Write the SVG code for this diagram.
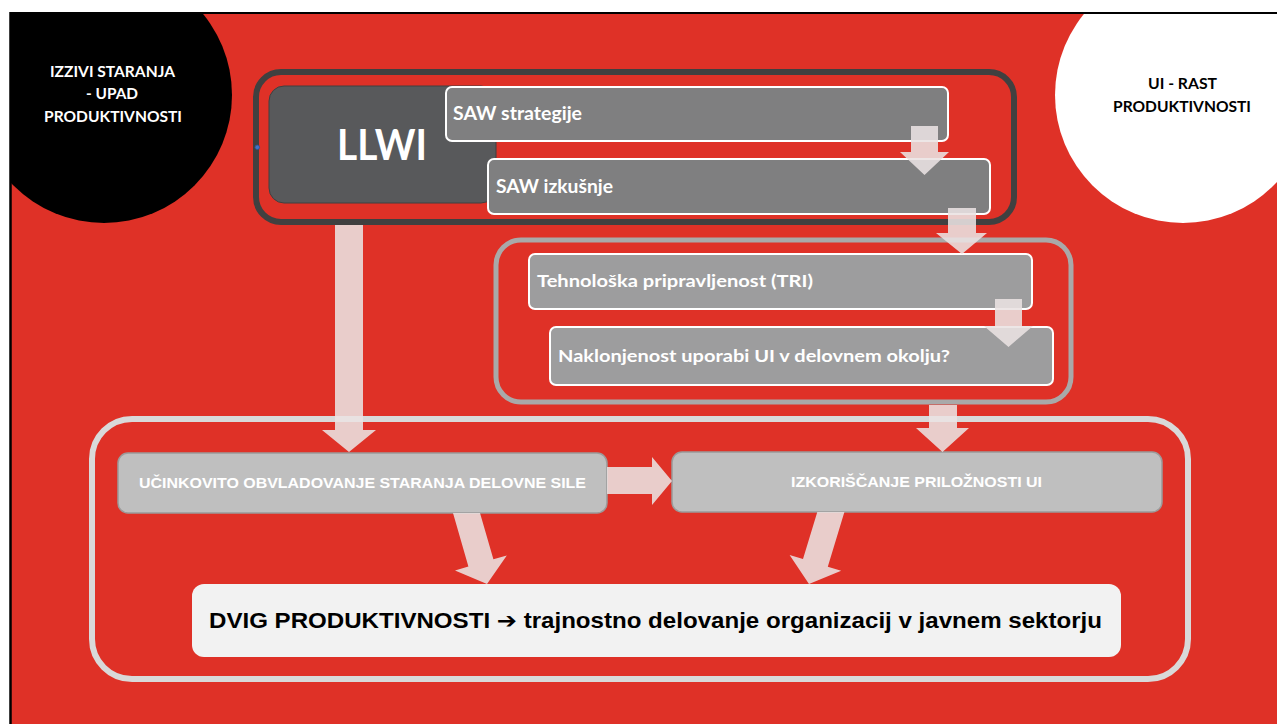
<svg xmlns="http://www.w3.org/2000/svg" width="1277" height="724" viewBox="0 0 1277 724">
<defs>
<clipPath id="slide"><rect x="11" y="14" width="1266" height="710"/></clipPath>
<style>
.cal{font-family:Lato,"Open Sans","DejaVu Sans",sans-serif;font-weight:700}
.ar{font-family:"Liberation Sans",Arial,sans-serif;font-weight:700}
.arrow{fill:#ebe2e2;fill-opacity:0.88}
.saw{fill:#7f7f80;stroke:#fff;stroke-width:2}
.tri{fill:#9d9d9e;stroke:#fff;stroke-width:2}
.res{fill:#bfbfbf;stroke:#9b9b9b;stroke-width:1.5}
.wt{fill:#fff}
</style>
</defs>
<rect width="1277" height="724" fill="#fff"/>
<rect x="11" y="14" width="1266" height="710" fill="#df3127"/>
<g id="izzivi" clip-path="url(#slide)">
<circle cx="104" cy="95" r="128" fill="#000"/>
<g class="cal wt" font-size="15" text-anchor="middle">
<text x="112.5" y="77" textLength="125" lengthAdjust="spacingAndGlyphs">IZZIVI STARANJA</text>
<text x="112" y="99" textLength="52" lengthAdjust="spacingAndGlyphs">- UPAD</text>
<text x="113" y="122" textLength="138" lengthAdjust="spacingAndGlyphs">PRODUKTIVNOSTI</text>
</g>
</g>
<g id="ui-rast" clip-path="url(#slide)">
<circle cx="1183" cy="95" r="128" fill="#fff"/>
<g class="cal" font-size="15" text-anchor="middle" fill="#000">
<text x="1182.5" y="89" textLength="69" lengthAdjust="spacingAndGlyphs">UI - RAST</text>
<text x="1182" y="112" textLength="138" lengthAdjust="spacingAndGlyphs">PRODUKTIVNOSTI</text>
</g>
</g>
<line x1="10" y1="13" x2="1277" y2="13" stroke="#000" stroke-width="2"/>
<line x1="10.5" y1="12" x2="10.5" y2="724" stroke="#000" stroke-width="2.5"/>

<g id="llwi-frame">
<rect x="256" y="72" width="758" height="150" rx="25" fill="none" stroke="#404040" stroke-width="6"/>
<circle cx="257.3" cy="147.3" r="2.3" fill="#4472c4" stroke="#2f528f" stroke-width="0.8"/>
</g>
<g id="llwi">
<rect x="269" y="86" width="227" height="117" rx="15" fill="#58595b" stroke="#404040" stroke-width="1"/>
<text class="cal wt" x="382" y="160" font-size="42" text-anchor="middle" textLength="90" lengthAdjust="spacingAndGlyphs">LLWI</text>
</g>
<g id="saw-strategije">
<rect class="saw" x="446" y="87" width="502" height="54" rx="6"/>
<text class="cal wt" x="453" y="120" font-size="18.5" textLength="129" lengthAdjust="spacingAndGlyphs">SAW strategije</text>
</g>
<g id="saw-izkusnje">
<rect class="saw" x="488" y="159" width="502" height="55" rx="6"/>
<text class="cal wt" x="496" y="193" font-size="18.5" textLength="117" lengthAdjust="spacingAndGlyphs">SAW izkušnje</text>
</g>

<g id="tri-frame">
<rect x="496" y="240" width="575" height="162" rx="25" fill="none" stroke="#a9a9a9" stroke-width="5"/>
</g>
<g id="tri">
<rect class="tri" x="529" y="254" width="503" height="55" rx="6"/>
<text class="cal wt" x="537" y="287" font-size="17.5" textLength="276" lengthAdjust="spacingAndGlyphs">Tehnološka pripravljenost (TRI)</text>
</g>
<g id="naklonjenost">
<rect class="tri" x="550" y="327" width="503" height="58" rx="6"/>
<text class="cal wt" x="558" y="362" font-size="17.5" textLength="392" lengthAdjust="spacingAndGlyphs">Naklonjenost uporabi UI v delovnem okolju?</text>
</g>

<g id="result-frame">
<rect x="92" y="419" width="1096" height="260" rx="40" fill="none" stroke="#d9d9d9" stroke-width="6"/>
</g>
<g id="ucinkovito">
<rect class="res" x="118" y="453" width="489" height="60" rx="10"/>
<text class="ar wt" x="362.5" y="488" font-size="15.5" text-anchor="middle" textLength="447" lengthAdjust="spacingAndGlyphs">UČINKOVITO OBVLADOVANJE STARANJA DELOVNE SILE</text>
</g>
<g id="izkoriscanje">
<rect class="res" x="672" y="452" width="490" height="60" rx="10"/>
<text class="ar wt" x="916.5" y="487" font-size="15.5" text-anchor="middle" textLength="251" lengthAdjust="spacingAndGlyphs">IZKORIŠČANJE PRILOŽNOSTI UI</text>
</g>
<g id="dvig">
<rect x="192" y="584" width="929" height="73" rx="12" fill="#f2f2f2"/>
<text class="ar" x="209" y="628" font-size="22" fill="#000" textLength="893" lengthAdjust="spacingAndGlyphs">DVIG PRODUKTIVNOSTI <tspan font-family="'DejaVu Sans',sans-serif" font-weight="700">➔</tspan> trajnostno delovanje organizacij v javnem sektorju</text>
</g>

<g id="connectors">
<polygon class="arrow" points="911,126 938,126 938,152 949,152 924.5,175 900,152 911,152"/>
<polygon class="arrow" points="948,208 976,208 976,233 987,233 962,254 936,233 948,233"/>
<polygon class="arrow" points="995,299 1022,299 1022,326 1033,326 1008.5,347 984,326 995,326"/>
<polygon class="arrow" points="929,405 957,405 957,428 969,428 942.5,452 916,428 929,428"/>
<polygon class="arrow" points="335,225 363,225 363,430 376,430 349,452 322,430 335,430"/>
<polygon class="arrow" points="607,467 652,467 652,457 672,481 652,505 652,494 607,494"/>
<polygon class="arrow" points="453,513 480,513 493.4,559.3 506.8,555.4 487,584 455,570.4 468.4,566.5"/>
<polygon class="arrow" points="817.3,512 844.4,512 827.8,566.7 841.2,570.7 809,584 789.6,555.1 803,559.1"/>
</g>
</svg>
